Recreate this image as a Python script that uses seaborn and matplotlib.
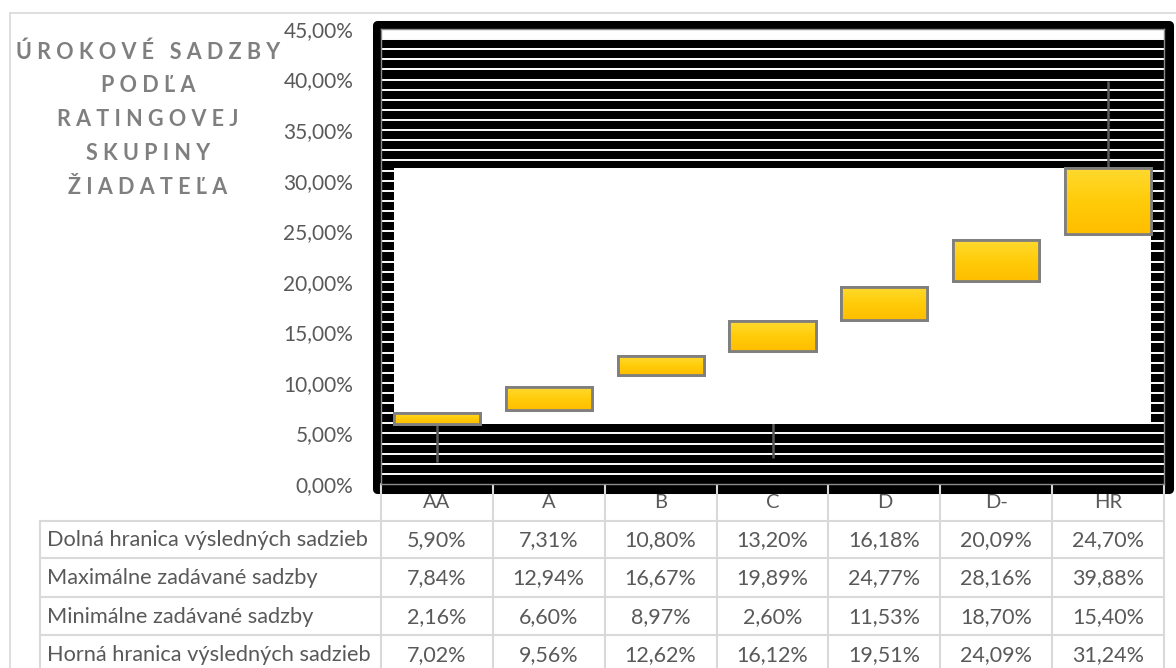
import numpy as np
import matplotlib
matplotlib.use('Agg')
import matplotlib.pyplot as plt
import seaborn as sns
from matplotlib.patches import Rectangle


categories = ['AA', 'A', 'B', 'C', 'D', 'D-', 'HR']
dolna = [5.90, 7.31, 10.80, 13.20, 16.18, 20.09, 24.70]
maximalne = [7.84, 12.94, 16.67, 19.89, 24.77, 28.16, 39.88]
minimalne = [2.16, 6.60, 8.97, 2.60, 11.53, 18.70, 15.40]
horna = [7.02, 9.56, 12.62, 16.12, 19.51, 24.09, 31.24]

row_names = ['Dolná hranica výsledných sadzieb', 'Maximálne zadávané sadzby',
             'Minimálne zadávané sadzby', 'Horná hranica výsledných sadzieb']
title_lines = ['ÚROKOVÉ SADZBY', 'PODĽA', 'RATINGOVEJ', 'SKUPINY', 'ŽIADATEĽA']
y_ticks = [0, 5, 10, 15, 20, 25, 30, 35, 40, 45]


def pct(v):
    return f'{v:.2f}%'.replace('.', ',')


def spaced(s):
    return '   '.join(' '.join(w) for w in s.split(' '))


sns.set_theme(style='white')
plt.rcParams['font.family'] = ['Lato', 'DejaVu Sans']

W, H = 1176, 668
fig = plt.figure(figsize=(W / 100, H / 100), dpi=100)

# plot area in pixel coords (top-left origin)
px_l, px_r, px_t, px_b = 381, 1164, 29, 484
ax = fig.add_axes([px_l / W, (H - px_b) / H, (px_r - px_l) / W, (px_b - px_t) / H])
ax.set_zorder(2)

n = len(categories)
xs = np.arange(n)
box_w = 0.77

# dark striped background
ax.axhspan(0, 44, color='black', zorder=0)
ax.hlines(np.arange(1, 45), -0.5, n - 0.5, color='white', lw=1.4, zorder=1)

# high-low lines
ax.vlines(xs, minimalne, maximalne, color='#595959', lw=1.8, zorder=2)

# white field between extreme box limits
ax.add_patch(Rectangle((-box_w / 2, min(dolna)), n - 1 + box_w, max(horna) - min(dolna),
                       facecolor='white', edgecolor='none', zorder=3))

heights = [h - d for h, d in zip(horna, dolna)]
sns.barplot(x=categories, y=heights, bottom=dolna, width=box_w, color='#FFC805',
            edgecolor='#7F7F7F', linewidth=2, errorbar=None, zorder=4, ax=ax)

# soft gradient inside boxes
grad = np.linspace(0, 1, 64).reshape(-1, 1)
cmap = matplotlib.colors.LinearSegmentedColormap.from_list('yl', ['#FFBE00', '#FFCC0A', '#FFDA30'])
for bar in list(ax.patches):
    if bar.get_zorder() != 4:
        continue
    x0, y0 = bar.get_x(), bar.get_y()
    im = ax.imshow(grad, extent=[x0, x0 + bar.get_width(), y0, y0 + bar.get_height()],
                   origin='lower', cmap=cmap, aspect='auto', zorder=4.5)
    im.set_clip_path(bar)
    ax.add_patch(Rectangle((x0, y0), bar.get_width(), bar.get_height(), facecolor='none',
                           edgecolor='#7F7F7F', lw=2, zorder=5))

ax.set_xlim(-0.5, n - 0.5)
ax.set_ylim(0, 45)
ax.set_yticks(y_ticks)
ax.set_yticklabels([pct(v) for v in y_ticks], color='#595959', fontsize=15)
ax.tick_params(axis='y', length=0, pad=20)
ax.set_xticks([])
ax.set_xlabel('')
ax.set_ylabel('')
for s in ax.spines.values():
    s.set_color('#8C8C8C')
    s.set_linewidth(1)

# overlay for frame, title and data table
ov = fig.add_axes([0, 0, 1, 1])
ov.set_xlim(0, W)
ov.set_ylim(H, 0)
ov.axis('off')
ov.patch.set_alpha(0)
ov.set_zorder(1)

# outer chart border
ov.plot([10, 10], [13, H], color='#D9D9D9', lw=1.2)
ov.plot([10, W], [13, 13], color='#D9D9D9', lw=1.2)

# thick black frame around plot area
ov.add_patch(Rectangle((px_l - 4.5, px_t - 4.5), px_r - px_l + 9, px_b - px_t + 9,
                       facecolor='none', edgecolor='black', lw=6.5, joinstyle='round'))

# title
title_y = [52, 86, 120, 154, 188]
for line, ty in zip(title_lines, title_y):
    ov.text(148, ty, spaced(line), ha='center', va='center', fontsize=15.5,
            fontweight='bold', color='#7F7F7F')

# data table
col_w = (px_r - px_l) / n
tab_left = 40
row_edges = [521, 558, 597, 635]
grid_c = '#D9D9D9'
for k in range(n + 1):
    xk = px_l + k * col_w
    ov.plot([xk, xk], [px_b, H], color=grid_c, lw=1.5, zorder=6)
ov.plot([tab_left, tab_left], [row_edges[0], H], color=grid_c, lw=1.5)
for yk in row_edges:
    ov.plot([tab_left, px_r], [yk, yk], color=grid_c, lw=1.5)

for k, cat in enumerate(categories):
    ov.text(px_l + (k + 0.5) * col_w, 503, cat, ha='center', va='center',
            fontsize=14.5, color='#595959')

rows = [dolna, maximalne, minimalne, horna]
row_y = [540, 578, 617, 655]
for name, vals, yr in zip(row_names, rows, row_y):
    ov.text(47, yr, name, ha='left', va='center', fontsize=15.7, color='#595959')
    for k, v in enumerate(vals):
        ov.text(px_l + (k + 0.5) * col_w, yr, pct(v), ha='center', va='center',
                fontsize=15.5, color='#595959')

fig.savefig('out.png', dpi=100, facecolor='white')
